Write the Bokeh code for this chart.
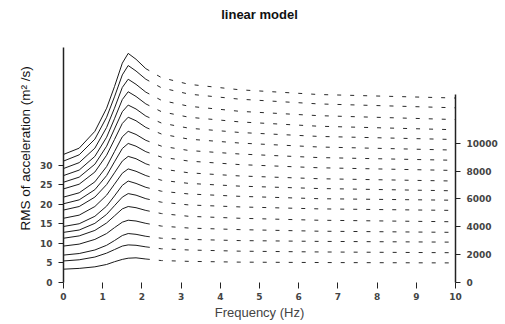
from bokeh.plotting import figure
from bokeh.models import Range1d, LinearAxis, FixedTicker, ColumnDataSource, Title
from bokeh.embed import file_html
from bokeh.resources import INLINE

# Frequencies (Hz) at which the curves were read
freq = [0.0, 0.4, 0.8, 1.1, 1.3, 1.5, 1.65, 1.85, 2.1, 2.5, 3.2, 4.5, 6.5, 10.0]

# RMS of acceleration for each curve of the waterfall (bottom to top)
c01 = [3.4, 3.6, 4.0, 4.6, 5.3, 5.9, 6.2, 6.3, 6.0, 5.6, 5.4, 5.2, 5.1, 5.0]
c02 = [5.5, 5.8, 6.5, 7.5, 8.4, 9.3, 9.6, 9.5, 9.1, 8.6, 8.3, 8.0, 7.8, 7.6]
c03 = [7.0, 7.4, 8.3, 9.5, 10.7, 12.0, 12.5, 12.3, 11.8, 11.3, 11.0, 10.7, 10.5, 10.3]
c04 = [9.3, 9.8, 11.0, 12.5, 14.0, 15.4, 15.9, 15.7, 15.1, 14.4, 13.9, 13.5, 13.1, 12.8]
c05 = [11.3, 11.9, 13.3, 15.2, 17.0, 18.8, 19.4, 19.1, 18.4, 17.6, 16.9, 16.4, 15.9, 15.5]
c06 = [12.8, 13.4, 15.1, 17.4, 19.6, 21.8, 22.7, 22.3, 21.4, 20.5, 19.8, 19.3, 18.8, 18.4]
c07 = [14.3, 15.0, 16.9, 19.5, 22.1, 24.8, 25.9, 25.3, 24.3, 23.3, 22.6, 22.0, 21.4, 21.0]
c08 = [16.4, 17.2, 19.4, 22.3, 25.1, 27.9, 29.0, 28.4, 27.3, 26.1, 25.3, 24.6, 24.0, 23.4]
c09 = [18.5, 19.4, 21.8, 25.0, 28.0, 31.0, 32.2, 31.6, 30.3, 29.0, 28.0, 27.2, 26.5, 25.9]
c10 = [20.1, 21.1, 23.7, 27.3, 30.8, 34.2, 35.5, 34.8, 33.4, 32.0, 31.0, 30.1, 29.3, 28.6]
c11 = [21.8, 22.9, 25.7, 29.6, 33.4, 37.2, 38.6, 37.8, 36.3, 34.8, 33.7, 32.8, 31.9, 31.2]
c12 = [23.9, 25.1, 28.2, 32.5, 36.5, 40.6, 42.2, 41.3, 39.6, 37.9, 36.6, 35.6, 34.6, 33.8]
c13 = [25.6, 26.9, 30.2, 34.8, 39.2, 43.6, 45.3, 44.3, 42.5, 40.7, 39.4, 38.3, 37.3, 36.5]
c14 = [27.3, 28.7, 32.2, 37.1, 41.8, 46.7, 48.7, 47.5, 45.6, 43.6, 42.2, 41.0, 39.9, 39.0]
c15 = [29.1, 30.6, 34.3, 39.6, 44.5, 49.8, 51.9, 50.6, 48.6, 46.5, 45.0, 43.7, 42.6, 41.6]
c16 = [31.0, 32.6, 36.6, 42.2, 47.4, 53.0, 55.4, 54.0, 51.9, 49.7, 48.1, 46.8, 45.6, 44.6]
c17 = [32.7, 34.3, 38.6, 44.5, 50.0, 56.0, 58.5, 57.0, 54.6, 52.3, 50.6, 49.2, 48.0, 47.1]
curves = [c01, c02, c03, c04, c05, c06, c07, c08, c09, c10, c11, c12, c13, c14, c15, c16, c17]

left_ticks = [0, 5, 10, 15, 20, 25, 30]
right_ticks = [0, 2000, 4000, 6000, 8000, 10000]
x_ticks = [0, 1, 2, 3, 4, 5, 6, 7, 8, 9, 10]

FONT = "Liberation Sans"
TICKFONT = "DejaVu Sans"

p = figure(width=500, height=322, output_backend="svg", toolbar_location=None,
           x_range=Range1d(0, 10), y_range=Range1d(0, 60),
           min_border_left=63, min_border_right=45, min_border_bottom=37,
           min_border_top=47)
p.outline_line_color = None
p.grid.visible = False
p.background_fill_color = "white"
p.border_fill_color = "white"

# empty spacer next to the frame, then the real title further out
spacer = Title(text=" ", text_font_size="1px", standoff=23)
p.add_layout(spacer, "above")
main_title = Title(text="linear model", align="center", text_font=FONT,
                   text_font_style="bold", text_font_size="13px",
                   text_color="#111111", standoff=0)
p.add_layout(main_title, "above")

split = 8  # index of 2.1 Hz: solid before, broken afterwards
for c in curves:
    src_a = ColumnDataSource(dict(x=freq[:split + 1], y=c[:split + 1]))
    src_b = ColumnDataSource(dict(x=freq[split:], y=c[split:]))
    p.line("x", "y", source=src_a, line_color="#1a1a1a", line_width=1)
    p.line("x", "y", source=src_b, line_color="#2a2a2a", line_width=1, line_dash="4 9")

# bottom axis
xa = p.xaxis[0]
xa.ticker = FixedTicker(ticks=x_ticks)
xa.axis_line_color = None
xa.major_tick_in = 0
xa.major_tick_out = 6
xa.minor_tick_line_color = None
xa.major_tick_line_color = "#222222"
xa.major_label_text_font = TICKFONT
xa.major_label_text_font_style = "bold"
xa.major_label_text_font_size = "9px"
xa.major_label_standoff = 4
xa.axis_label = "Frequency (Hz)"
xa.axis_label_text_font = FONT
xa.axis_label_text_font_style = "normal"
xa.axis_label_text_font_size = "13px"
xa.axis_label_standoff = 2

# left axis
ya = p.yaxis[0]
ya.ticker = FixedTicker(ticks=left_ticks)
ya.axis_line_color = "#222222"
ya.axis_line_width = 1.5
ya.major_tick_in = 0
ya.major_tick_out = 5
ya.minor_tick_line_color = None
ya.major_tick_line_color = "#222222"
ya.major_label_text_font = TICKFONT
ya.major_label_text_font_style = "bold"
ya.major_label_text_font_size = "9px"
ya.major_label_standoff = 6

# y-axis title as a side title, starting 52 px above the bottom of the frame
ytitle = Title(text="RMS of acceleration (m\u00b2 /s)", align="left", offset=52,
               text_font=FONT, text_font_style="normal", text_font_size="13.5px",
               text_color="#111111", standoff=8)
p.add_layout(ytitle, "left")

# right axis
p.extra_y_ranges = {"z": Range1d(0, 16880)}
ra = LinearAxis(y_range_name="z", ticker=FixedTicker(ticks=right_ticks), bounds=(0, 13500))
ra.axis_line_color = "#222222"
ra.axis_line_width = 1.5
ra.major_tick_in = 0
ra.major_tick_out = 5
ra.minor_tick_line_color = None
ra.major_tick_line_color = "#222222"
ra.major_label_text_font = TICKFONT
ra.major_label_text_font_style = "bold"
ra.major_label_text_font_size = "9px"
ra.major_label_standoff = 6
p.add_layout(ra, "right")

open("out.html", "w").write(file_html(p, INLINE))
